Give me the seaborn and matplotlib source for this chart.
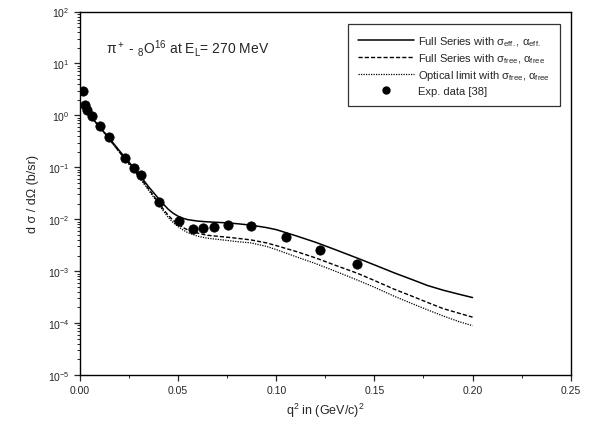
import numpy as np
import pandas as pd
import seaborn as sns
import matplotlib.pyplot as plt
from matplotlib.ticker import LogLocator, MultipleLocator, NullFormatter
from matplotlib.lines import Line2D

# experimental points
exp_q2 = [0.0015, 0.0026, 0.0037, 0.006, 0.0102, 0.015, 0.023, 0.0276, 0.031,
          0.040, 0.0503, 0.0575, 0.0625, 0.0685, 0.0755, 0.0873, 0.105, 0.1223, 0.141]
exp_xs = [3.0, 1.6, 1.25, 0.98, 0.63, 0.39, 0.15, 0.098, 0.07,
          0.021, 0.0094, 0.0066, 0.0068, 0.0072, 0.0078, 0.0074, 0.0046, 0.0026, 0.00135]

# theory curves
q2 = [0.0, 0.005, 0.01, 0.015, 0.02, 0.025, 0.03, 0.035, 0.04, 0.0425, 0.045, 0.0475,
      0.05, 0.0525, 0.055, 0.06, 0.065, 0.07, 0.075, 0.08, 0.087, 0.095, 0.1, 0.11,
      0.12, 0.13, 0.141, 0.15, 0.16, 0.17, 0.177, 0.185, 0.193, 0.2]
full_eff = [1.7, 1.0, 0.6, 0.36, 0.21, 0.125, 0.074, 0.042, 0.025, 0.0195, 0.0155, 0.013,
            0.0114, 0.0104, 0.0098, 0.0092, 0.0089, 0.0087, 0.0085, 0.0082, 0.0077, 0.0069,
            0.0063, 0.0048, 0.0036, 0.0026, 0.0018, 0.00132, 0.00093, 0.00067, 0.00053,
            0.00043, 0.00036, 0.00031]
full_free = [1.7, 1.0, 0.6, 0.35, 0.2, 0.118, 0.068, 0.038, 0.021, 0.0155, 0.0118, 0.0095,
             0.008, 0.0069, 0.0062, 0.0054, 0.0049, 0.0047, 0.0045, 0.0043, 0.004, 0.0035,
             0.0031, 0.0024, 0.0018, 0.0013, 0.00092, 0.00066, 0.00045, 0.00032, 0.00025,
             0.00019, 0.000155, 0.00013]
optical_free = [1.7, 1.0, 0.59, 0.34, 0.195, 0.113, 0.065, 0.036, 0.0195, 0.0143, 0.0108, 0.0086,
                0.0072, 0.0062, 0.0055, 0.0047, 0.0043, 0.0041, 0.0039, 0.0037, 0.0035, 0.003,
                0.0026, 0.0019, 0.0014, 0.001, 0.00068, 0.00049, 0.00033, 0.00023, 0.00018,
                0.000137, 0.000107, 0.000089]

df_exp = pd.DataFrame({"q2": exp_q2, "xs": exp_xs})
df_th = pd.DataFrame({"q2": q2, "eff": full_eff, "free": full_free, "opt": optical_free})

sns.set_style("ticks")
plt.rcParams["font.family"] = ["Liberation Sans", "DejaVu Sans"]
plt.rcParams["mathtext.fontset"] = "custom"
plt.rcParams["mathtext.rm"] = "Liberation Sans"
plt.rcParams["mathtext.it"] = "Liberation Sans"

fig = plt.figure(figsize=(5.9, 4.39), dpi=100)
ax = fig.add_axes([0.1356, 0.1435, 0.8317, 0.8280])

sns.lineplot(data=df_th, x="q2", y="eff", ax=ax, color="black", lw=1.1)
sns.lineplot(data=df_th, x="q2", y="free", ax=ax, color="black", lw=1.0, linestyle=(0, (3, 1.5)))
sns.lineplot(data=df_th, x="q2", y="opt", ax=ax, color="black", lw=0.9, linestyle=(0, (1, 1)))
sns.scatterplot(data=df_exp, x="q2", y="xs", ax=ax, color="black", s=45, edgecolor="black", zorder=5)

ax.set_yscale("log")
ax.set_xlim(0, 0.25)
ax.set_ylim(1e-5, 1e2)
ax.xaxis.set_major_locator(MultipleLocator(0.05))
ax.xaxis.set_minor_locator(MultipleLocator(0.025))
ax.xaxis.set_major_formatter(plt.FuncFormatter(lambda v, p: f"{v:.2f}"))
ax.yaxis.set_major_locator(LogLocator(base=10, numticks=10))
ax.yaxis.set_minor_locator(LogLocator(base=10, subs=np.arange(2, 10), numticks=10))
ax.yaxis.set_minor_formatter(NullFormatter())
ax.tick_params(which="major", direction="out", length=4, width=0.9, labelsize=7.5)
ax.tick_params(which="minor", direction="out", length=2, width=0.7)
for s in ax.spines.values():
    s.set_linewidth(1.0)
    s.set_color("black")
    s.set_visible(True)

ax.set_xlabel("q$^2$ in (GeV/c)$^2$", fontsize=9)
ax.set_ylabel("d σ / dΩ (b/sr)", fontsize=9, labelpad=6)

ax.text(0.013, 20, "π$^+$ - $_8$O$^{16}$ at E$_L$= 270 MeV", fontsize=10, va="center")

handles = [
    Line2D([], [], color="black", lw=1.1),
    Line2D([], [], color="black", lw=1.0, linestyle=(0, (3, 1.5))),
    Line2D([], [], color="black", lw=0.9, linestyle=(0, (1, 1))),
    Line2D([], [], color="black", lw=0, marker="o", markersize=5),
]
labels = [
    "Full Series with σ$_{eff.}$, α$_{eff.}$",
    "Full Series with σ$_{free}$, α$_{free}$",
    "Optical limit with σ$_{free}$, α$_{free}$",
    "Exp. data [38]",
]
leg = ax.legend(handles, labels, loc="upper right", bbox_to_anchor=(0.99, 0.98),
                fontsize=8, frameon=True, fancybox=False, edgecolor="black",
                handlelength=5.0, handletextpad=0.4, borderpad=0.9, labelspacing=0.3)
leg.get_frame().set_linewidth(0.9)

fig.savefig("out.png", dpi=100)
